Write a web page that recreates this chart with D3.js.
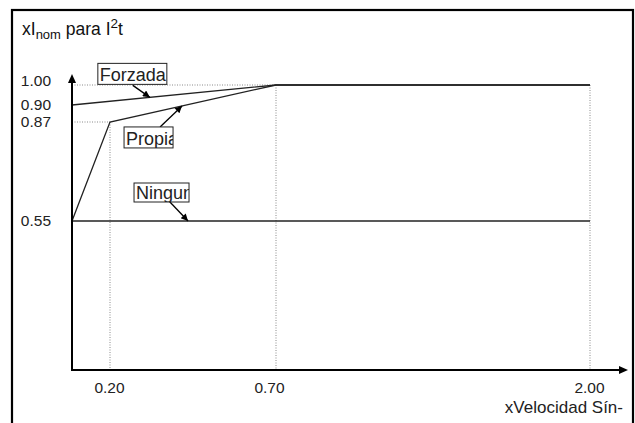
<!DOCTYPE html>
<html><head><meta charset="utf-8">
<script src="https://cdn.jsdelivr.net/npm/d3@7/dist/d3.min.js"></script>
<style>
html,body{margin:0;padding:0;background:#fff;}
svg{display:block;font-family:"Liberation Sans",Arial,Helvetica,sans-serif;}
</style></head>
<body>
<svg id="chart" width="635" height="423"></svg>
<script>
// ---- data ----
const xTicks = [0.20, 0.70, 2.00];
const yTicks = [0.55, 0.87, 0.90, 1.00];
const seriesNames = ["Forzada", "Propia", "Ninguna"];
const forzadaX = [0, 0.70, 2.00];
const forzadaY = [0.90, 1.00, 1.00];
const propiaX = [0, 0.20, 0.70, 2.00];
const propiaY = [0.55, 0.87, 1.00, 1.00];
const ningunaX = [0, 2.00];
const ningunaY = [0.55, 0.55];
const annotationX = [0.32, 0.417, 0.435]; // where each label's arrow touches its line
const xAxisTitle = "xVelocidad Sín-";

// ---- layout ----
const svg = d3.select("#chart");
// schematic (non-proportional) axes, as in the original figure
const x = d3.scaleLinear().domain([0, 0.20, 0.70, 2.00]).range([72, 110, 276, 590]);
const y = d3.scaleLinear().domain([0, 0.55, 0.87, 0.90, 1.00]).range([370, 221, 122, 105, 85]);

// frame
svg.append("rect").attr("x", 12).attr("y", 10).attr("width", 621).attr("height", 430)
  .attr("fill", "none").attr("stroke", "#000").attr("stroke-width", 2.2);

// title
const title = svg.append("text").attr("x", 22).attr("y", 35).attr("font-size", 17.5).attr("fill", "#111");
title.append("tspan").text("xI");
title.append("tspan").attr("font-size", 13).attr("dy", 4).text("nom");
title.append("tspan").attr("dy", -4).text(" para I");
title.append("tspan").attr("font-size", 13.5).attr("dy", -7).text("2");
title.append("tspan").attr("dy", 7).text("t");

// dotted guides
const guide = svg.append("g").attr("stroke", "#8a8a8a").attr("stroke-width", 1)
  .attr("stroke-dasharray", "1,1.5").attr("fill", "none");
[[1.00, 0.70], [0.87, 0.20]].forEach(([yv, xv]) => {
  guide.append("line").attr("x1", x(0)).attr("x2", x(xv)).attr("y1", y(yv)).attr("y2", y(yv));
});
[[0.20, 0.87], [0.70, 1.00], [2.00, 1.00]].forEach(([xv, yv]) => {
  guide.append("line").attr("x1", x(xv)).attr("x2", x(xv)).attr("y1", y(yv)).attr("y2", y(0));
});

// series lines
const seriesData = [
  forzadaX.map((v, i) => [v, forzadaY[i]]),
  propiaX.map((v, i) => [v, propiaY[i]]),
  ningunaX.map((v, i) => [v, ningunaY[i]])
];
const line = d3.line().x(d => x(d[0])).y(d => y(d[1]));
svg.append("g").selectAll("path").data(seriesData).join("path")
  .attr("d", line).attr("fill", "none").attr("stroke", "#222").attr("stroke-width", 1.3);

// axes lines with arrows
const ax = svg.append("g");
ax.append("line").attr("x1", x(0)).attr("x2", x(0)).attr("y1", y(0) + 1).attr("y2", 80)
  .attr("stroke", "#000").attr("stroke-width", 2);
ax.append("path").attr("d", `M${x(0)},74 L${x(0) - 4},83 L${x(0) + 4},83 Z`).attr("fill", "#000");
ax.append("line").attr("x1", x(0) - 1).attr("x2", 622).attr("y1", y(0)).attr("y2", y(0))
  .attr("stroke", "#000").attr("stroke-width", 2);
ax.append("path").attr("d", `M628,${y(0)} L619,${y(0) - 4} L619,${y(0) + 4} Z`).attr("fill", "#000");

// tick labels via d3 axes
const fmt = d3.format(".2f");
const yAxis = svg.append("g").attr("transform", `translate(${x(0)},0)`)
  .call(d3.axisLeft(y).tickValues(yTicks).tickFormat(fmt).tickSize(0).tickPadding(21));
yAxis.select(".domain").remove();
yAxis.selectAll("text").attr("font-size", 15.5).attr("fill", "#222")
  .attr("font-family", "Liberation Sans, Arial, sans-serif")
  .attr("dy", d => d === 1.00 ? "0.05em" : "0.32em");

const xAxis = svg.append("g").attr("transform", `translate(0,${y(0)})`)
  .call(d3.axisBottom(x).tickValues(xTicks).tickFormat(fmt).tickSize(0).tickPadding(12));
xAxis.select(".domain").remove();
xAxis.selectAll("text").attr("font-size", 15.5).attr("fill", "#222")
  .attr("font-family", "Liberation Sans, Arial, sans-serif")
  .attr("dx", d => d === 0.70 ? -7 : -1);

svg.append("text").attr("x", 623).attr("y", 413).attr("text-anchor", "end")
  .attr("font-size", 17).attr("fill", "#222").text(xAxisTitle);

// annotations (labels in clipped boxes with arrows)
function pointOn(series, xv) {
  for (let i = 0; i < series.length - 1; i++) {
    const a = series[i], b = series[i + 1];
    if (xv >= a[0] && xv <= b[0]) {
      const t = (x(xv) - x(a[0])) / (x(b[0]) - x(a[0]));
      return [x(xv), y(a[1]) + t * (y(b[1]) - y(a[1]))];
    }
  }
  return [x(xv), y(series[0][1])];
}
// layout offsets relative to the arrow target: [boxDx, boxDy, boxW, boxH, startDx, startDy]
const annLayout = [
  [-52, -34, 69, 21, -17, -12],
  [-58, 21, 49, 21, -22, 21],
  [-54, -38, 55, 19, -20, -21]
];
const defs = svg.append("defs");
defs.append("marker").attr("id", "arr").attr("viewBox", "0 0 10 10")
  .attr("refX", 10).attr("refY", 5).attr("markerWidth", 9).attr("markerHeight", 7)
  .attr("markerUnits", "userSpaceOnUse").attr("orient", "auto")
  .append("path").attr("d", "M0,0 L10,5 L0,10 Z").attr("fill", "#000");

seriesNames.forEach((name, i) => {
  const [tx, ty] = pointOn(seriesData[i], annotationX[i]);
  const [bdx, bdy, bw, bh, sdx, sdy] = annLayout[i];
  const bx = tx + bdx, by = ty + bdy;
  svg.append("line").attr("x1", tx + sdx).attr("y1", ty + sdy).attr("x2", tx).attr("y2", ty)
    .attr("stroke", "#000").attr("stroke-width", 1.3).attr("marker-end", "url(#arr)");
  defs.append("clipPath").attr("id", "clip" + i).append("rect")
    .attr("x", bx).attr("y", by).attr("width", bw).attr("height", bh);
  svg.append("rect").attr("x", bx).attr("y", by).attr("width", bw).attr("height", bh)
    .attr("fill", "#fff").attr("stroke", "#222").attr("stroke-width", 1);
  svg.append("text").attr("clip-path", `url(#clip${i})`).attr("x", bx + 2).attr("y", by + bh - 3)
    .attr("font-size", 18).attr("fill", "#222").text(name);
});
</script>
</body></html>
